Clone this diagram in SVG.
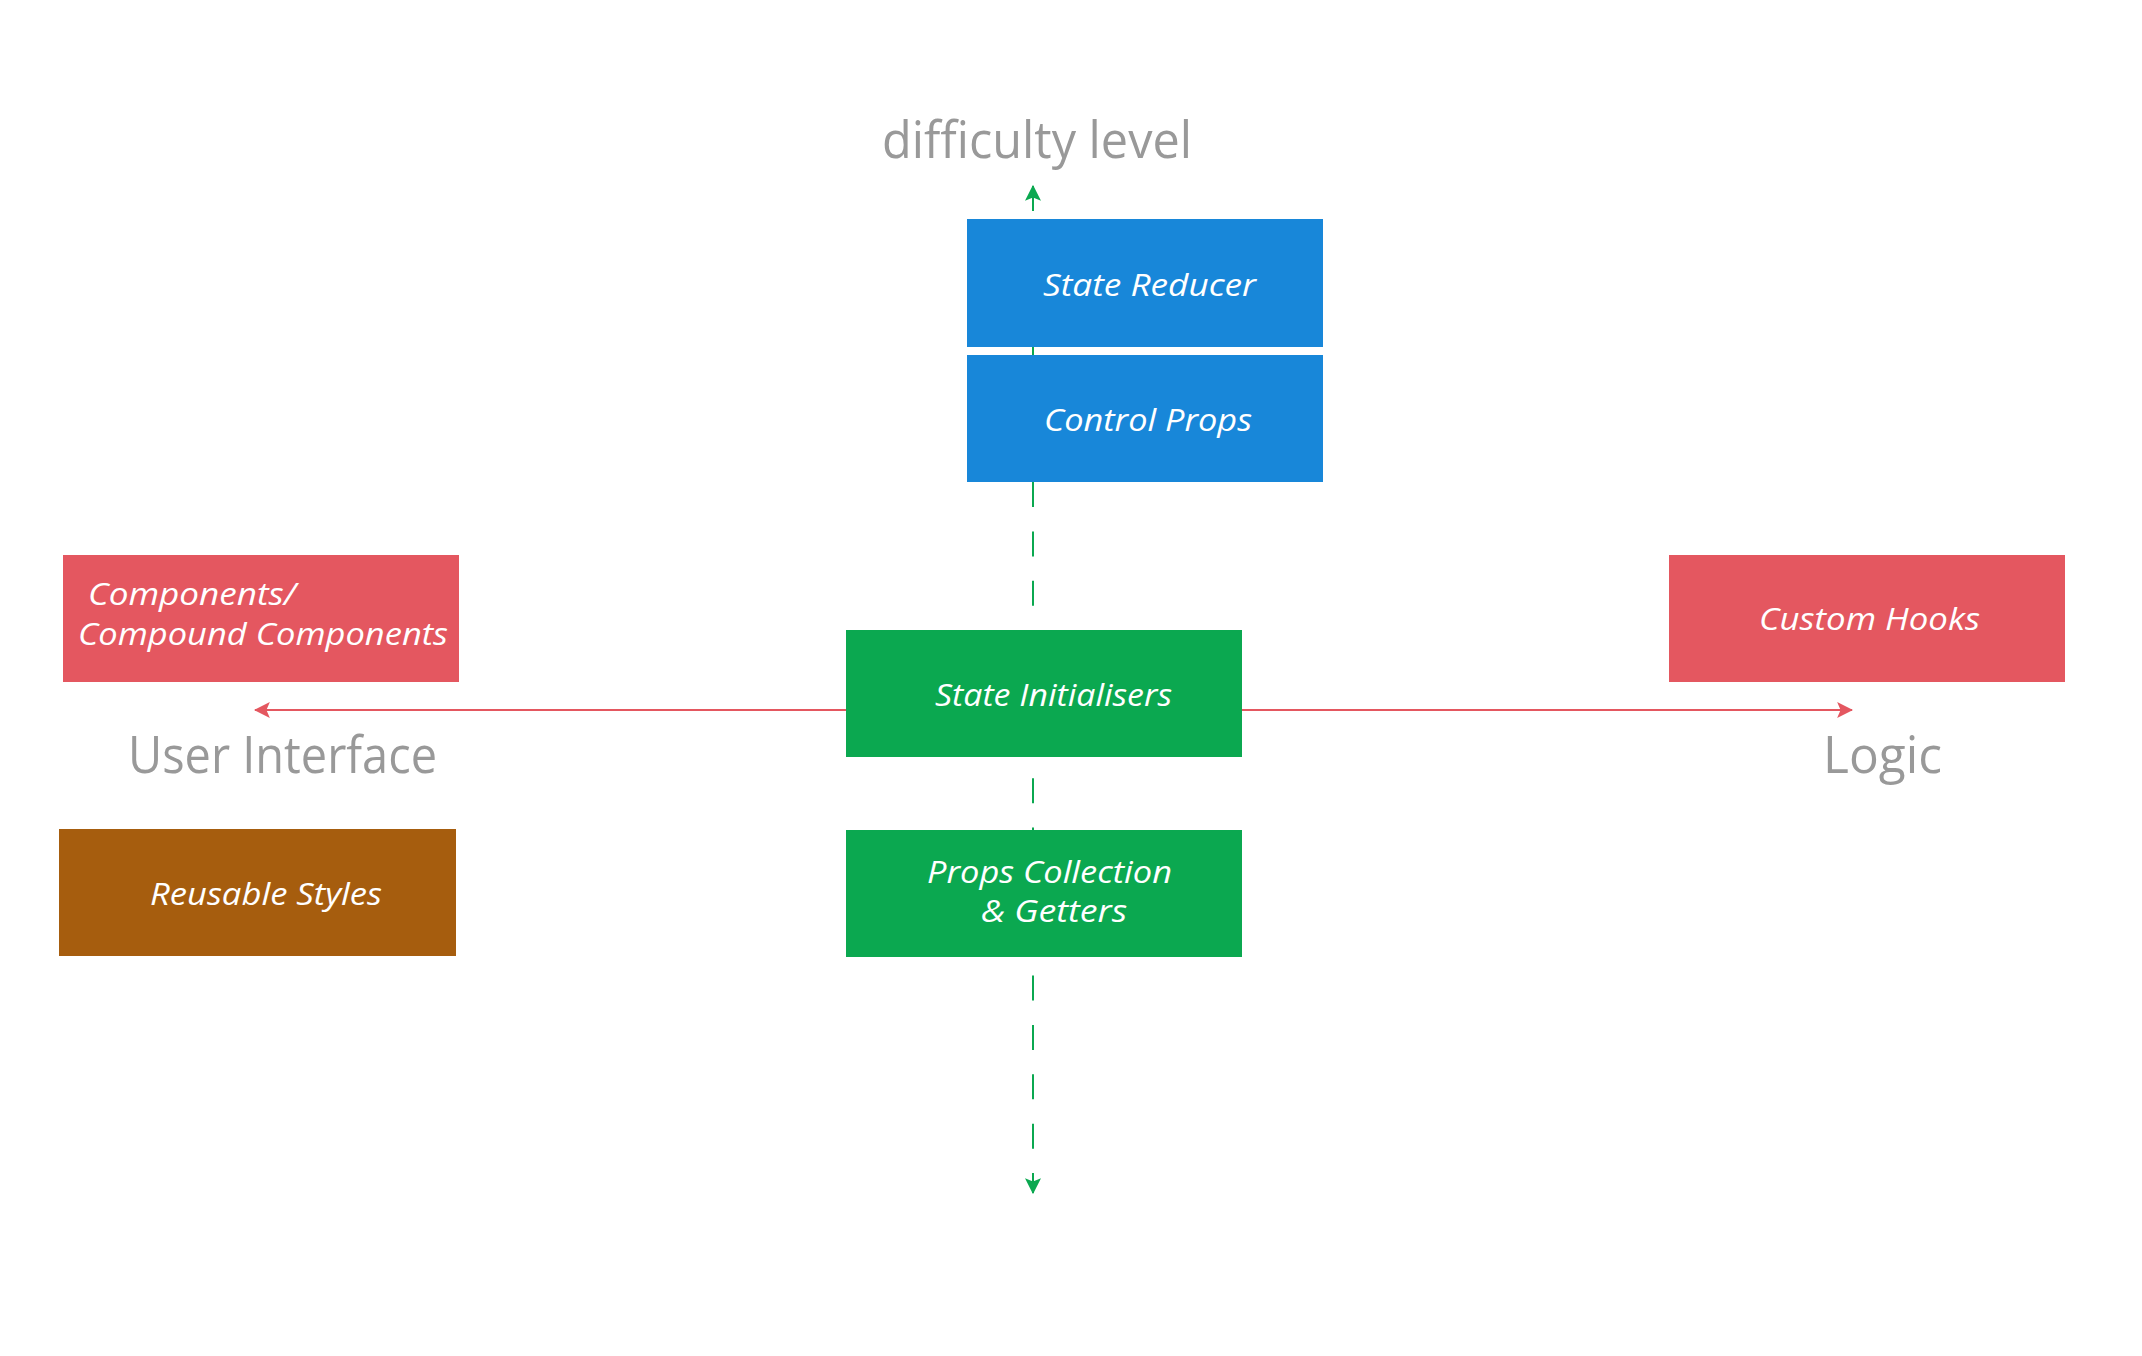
<svg xmlns="http://www.w3.org/2000/svg" width="2142" height="1356" viewBox="0 0 2142 1356">
<style>
.axis{font-family:"Open Sans","Noto Sans",sans-serif;font-size:52px;fill:#999999}
.lbl{font-family:"Open Sans","Noto Sans",sans-serif;font-style:italic;font-size:31px;fill:#ffffff}
.blue{fill:#1887D9}
.green{fill:#0BA850}
.red{fill:#E45760}
.brown{fill:#A65D0E}
</style>
<defs>
<marker id="ag" markerUnits="userSpaceOnUse" markerWidth="16" markerHeight="16" viewBox="0 0 14 14" refX="13" refY="7" orient="auto-start-reverse">
<path d="M0,0 L14,7 L0,14 L3,7 z" fill="#0BA850"/>
</marker>
<marker id="ar" markerUnits="userSpaceOnUse" markerWidth="16" markerHeight="16" viewBox="0 0 14 14" refX="13" refY="7" orient="auto-start-reverse">
<path d="M0,0 L14,7 L0,14 L3,7 z" fill="#E45760"/>
</marker>
</defs>
<rect width="2142" height="1356" fill="#ffffff"/>
<g id="connectors">
<line x1="1033" y1="186" x2="1033" y2="1193" stroke="#0BA850" stroke-width="2" stroke-dasharray="25 24.35" marker-start="url(#ag)" marker-end="url(#ag)"/>
<line x1="255" y1="710" x2="1852" y2="710" stroke="#E45760" stroke-width="2" marker-start="url(#ar)" marker-end="url(#ar)"/>
</g>
<g id="label-difficulty"><text class="axis" x="882" y="158" textLength="310" lengthAdjust="spacingAndGlyphs">difficulty level</text></g>
<g id="label-ui"><text class="axis" x="128" y="773" textLength="309" lengthAdjust="spacingAndGlyphs">User Interface</text></g>
<g id="label-logic"><text class="axis" x="1823" y="773" textLength="119" lengthAdjust="spacingAndGlyphs">Logic</text></g>
<g id="state-reducer">
<rect class="blue" x="967" y="219" width="356" height="128"/>
<text class="lbl" x="1043" y="296" textLength="213" lengthAdjust="spacingAndGlyphs">State Reducer</text>
</g>
<g id="control-props">
<rect class="blue" x="967" y="355" width="356" height="127"/>
<text class="lbl" x="1044" y="431" textLength="208" lengthAdjust="spacingAndGlyphs">Control Props</text>
</g>
<g id="state-initialisers">
<rect class="green" x="846" y="630" width="396" height="127"/>
<text class="lbl" x="935" y="706" textLength="237" lengthAdjust="spacingAndGlyphs">State Initialisers</text>
</g>
<g id="props-collection">
<rect class="green" x="846" y="830" width="396" height="127"/>
<text class="lbl" x="927" y="883" textLength="245" lengthAdjust="spacingAndGlyphs">Props Collection</text>
<text class="lbl" x="981" y="922" textLength="146" lengthAdjust="spacingAndGlyphs">&amp; Getters</text>
</g>
<g id="components">
<rect class="red" x="63" y="555" width="396" height="127"/>
<text class="lbl" x="88" y="605" textLength="208" lengthAdjust="spacingAndGlyphs">Components/</text>
<text class="lbl" x="78" y="645" textLength="370" lengthAdjust="spacingAndGlyphs">Compound Components</text>
</g>
<g id="custom-hooks">
<rect class="red" x="1669" y="555" width="396" height="127"/>
<text class="lbl" x="1759" y="630" textLength="221" lengthAdjust="spacingAndGlyphs">Custom Hooks</text>
</g>
<g id="reusable-styles">
<rect class="brown" x="59" y="829" width="397" height="127"/>
<text class="lbl" x="150" y="905" textLength="232" lengthAdjust="spacingAndGlyphs">Reusable Styles</text>
</g>
</svg>
